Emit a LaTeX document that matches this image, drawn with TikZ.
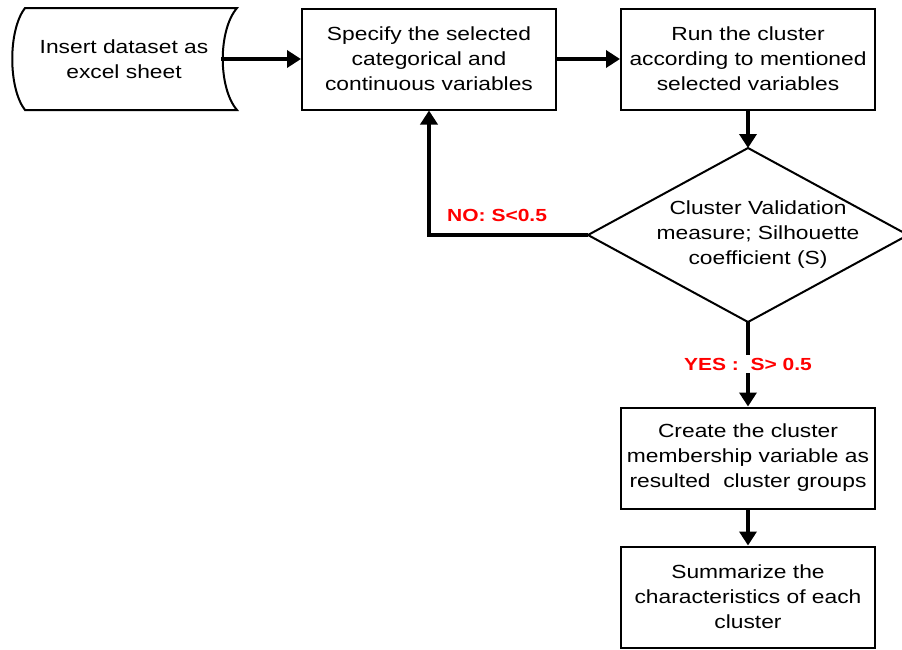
\documentclass[tikz,border=0pt]{standalone}
\usepackage{fontspec}
\setmainfont[FakeStretch=1.2]{Liberation Sans}
\usetikzlibrary{positioning}
\usetikzlibrary{arrows.meta}
\tikzset{
	every node/.style={align=center,font=\fontsize{19}{25}\selectfont},
	box/.style={draw,line width=2pt,minimum width=254pt,minimum height=101pt,inner sep=0pt},
	flow/.style={line width=3.5pt,-{Triangle[width=17pt,length=14pt]}},
	cond/.style={text=red,font=\fontsize{17.5}{21}\selectfont\bfseries,inner sep=0pt},
}

\begin{document}
\begin{tikzpicture}[x=1pt,y=-1pt]
	\useasboundingbox (0,0) rectangle (902,649);

	%data sheet.....................
	\node (data) at (124,59) {Insert dataset as\\excel sheet};
	\coordinate (dataR) at (221,59);
	\draw [line width=2pt] (130,8) -- (237,8) .. controls (218,30) and (218,88) .. (237,110)
		-- (25,110) .. controls (8,88) and (8,30) .. (25,8) -- cycle;

	%boxes......................
	\node [box] (specify) at (429,59) {Specify the selected\\categorical and\\continuous variables};
	\node [box] (run) at (748,59) {Run the cluster\\according to mentioned\\selected variables};
	\node [box] (create) at (748,458) {Create the cluster\\membership variable as\\resulted~ cluster groups};
	\node [box] (summ) at (748,597) {Summarize the\\characteristics of each\\cluster};

	% validation diamond...................
	\coordinate (vtop) at (748,148);
	\coordinate (vright) at (908,235);
	\coordinate (vbot) at (748,322);
	\coordinate (vleft) at (588,235);
	\draw [line width=2pt] (vtop) -- (vright) -- (vbot) -- (vleft) -- cycle;
	\node (valid) at (758,235) {Cluster Validation\\measure; Silhouette\\coefficient (S)};

	% arrows....................
	\draw [flow] (dataR) -- (specify);
	\draw [flow] (specify) -- (run);
	\draw [flow] (run) -- (vtop);
	\draw [flow] (vleft) -| (specify);
	\draw [flow] (vbot) -- node [cond,fill=white,inner sep=3pt] (yes) {YES :~ S> 0.5} (create);
	\draw [flow] (create) -- (summ);

	% no label..............................
	\node [cond, anchor=west] (no) at (447,215) {NO: S<0.5};
\end{tikzpicture}
\end{document}
